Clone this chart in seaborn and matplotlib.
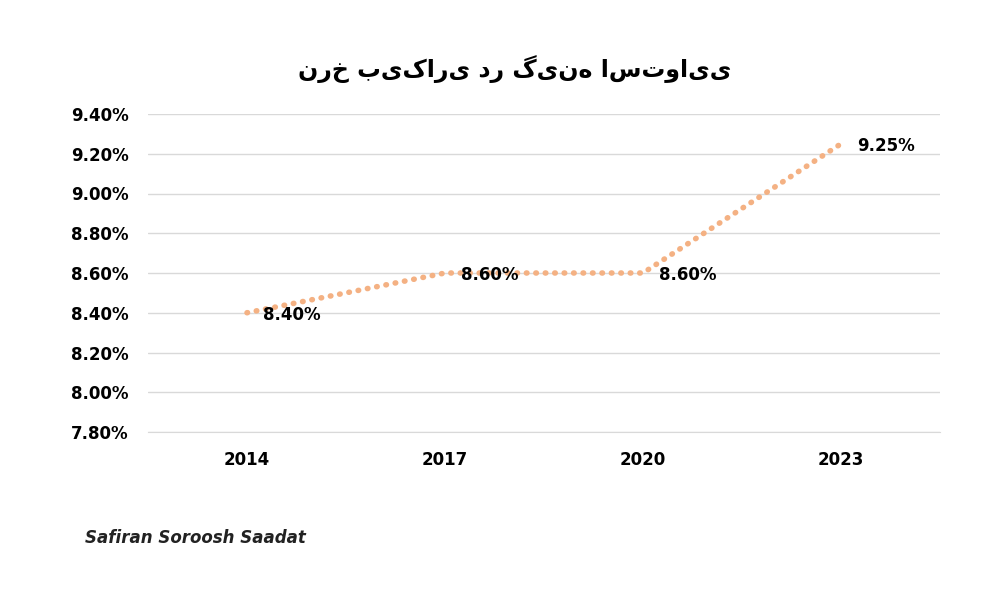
import matplotlib
matplotlib.use("Agg")
import matplotlib.pyplot as plt
import seaborn as sns
import pandas as pd

# Data
YEARS = ["2014", "2017", "2020", "2023"]
RATES = [8.40, 8.60, 8.60, 9.25]
TITLE = "نرخ بیکاری در گینه استوایی"

sns.set_style("white")
plt.rcParams["font.family"] = ["DejaVu Sans"]
plt.rcParams["text.color"] = "black"
plt.rcParams["xtick.color"] = "black"
plt.rcParams["ytick.color"] = "black"

df = pd.DataFrame({"year": YEARS, "rate": RATES})

fig, ax = plt.subplots(figsize=(10, 6), dpi=100)
fig.subplots_adjust(left=0.148, right=0.94, top=0.81, bottom=0.28)

sns.lineplot(data=df, x="year", y="rate", ax=ax, color="#F4B183",
             linewidth=4, linestyle=(0, (0.1, 1.6)), sort=False)
ax.lines[0].set_dash_capstyle("round")

for i, (yr, v) in enumerate(zip(YEARS, RATES)):
    ax.text(i + 0.08, v - 0.01, f"{v:.2f}%", fontsize=12, fontweight="bold",
            va="center", ha="left")

ax.set_xlim(-0.5, 3.5)
ax.set_ylim(7.8, 9.4)
ax.set_yticks([7.8 + 0.2 * k for k in range(9)])
ax.set_yticklabels([f"{7.8 + 0.2 * k:.2f}%" for k in range(9)])
ax.yaxis.grid(True, color="#d9d9d9", linewidth=1)
ax.set_xlabel("")
ax.set_ylabel("")
ax.tick_params(axis="both", labelsize=12, length=0, pad=14)
for lbl in ax.get_xticklabels() + ax.get_yticklabels():
    lbl.set_fontweight("bold")
for s in ["top", "right", "left"]:
    ax.spines[s].set_visible(False)
ax.spines["bottom"].set_color("#d9d9d9")

fig.text(0.515, 0.885, TITLE, ha="center", va="center", fontsize=17,
         fontweight="bold")
fig.text(0.085, 0.095, "Safiran Soroosh Saadat", fontsize=12,
         fontweight="bold", fontstyle="italic", color="#222222")

fig.savefig("out.png", dpi=100)
